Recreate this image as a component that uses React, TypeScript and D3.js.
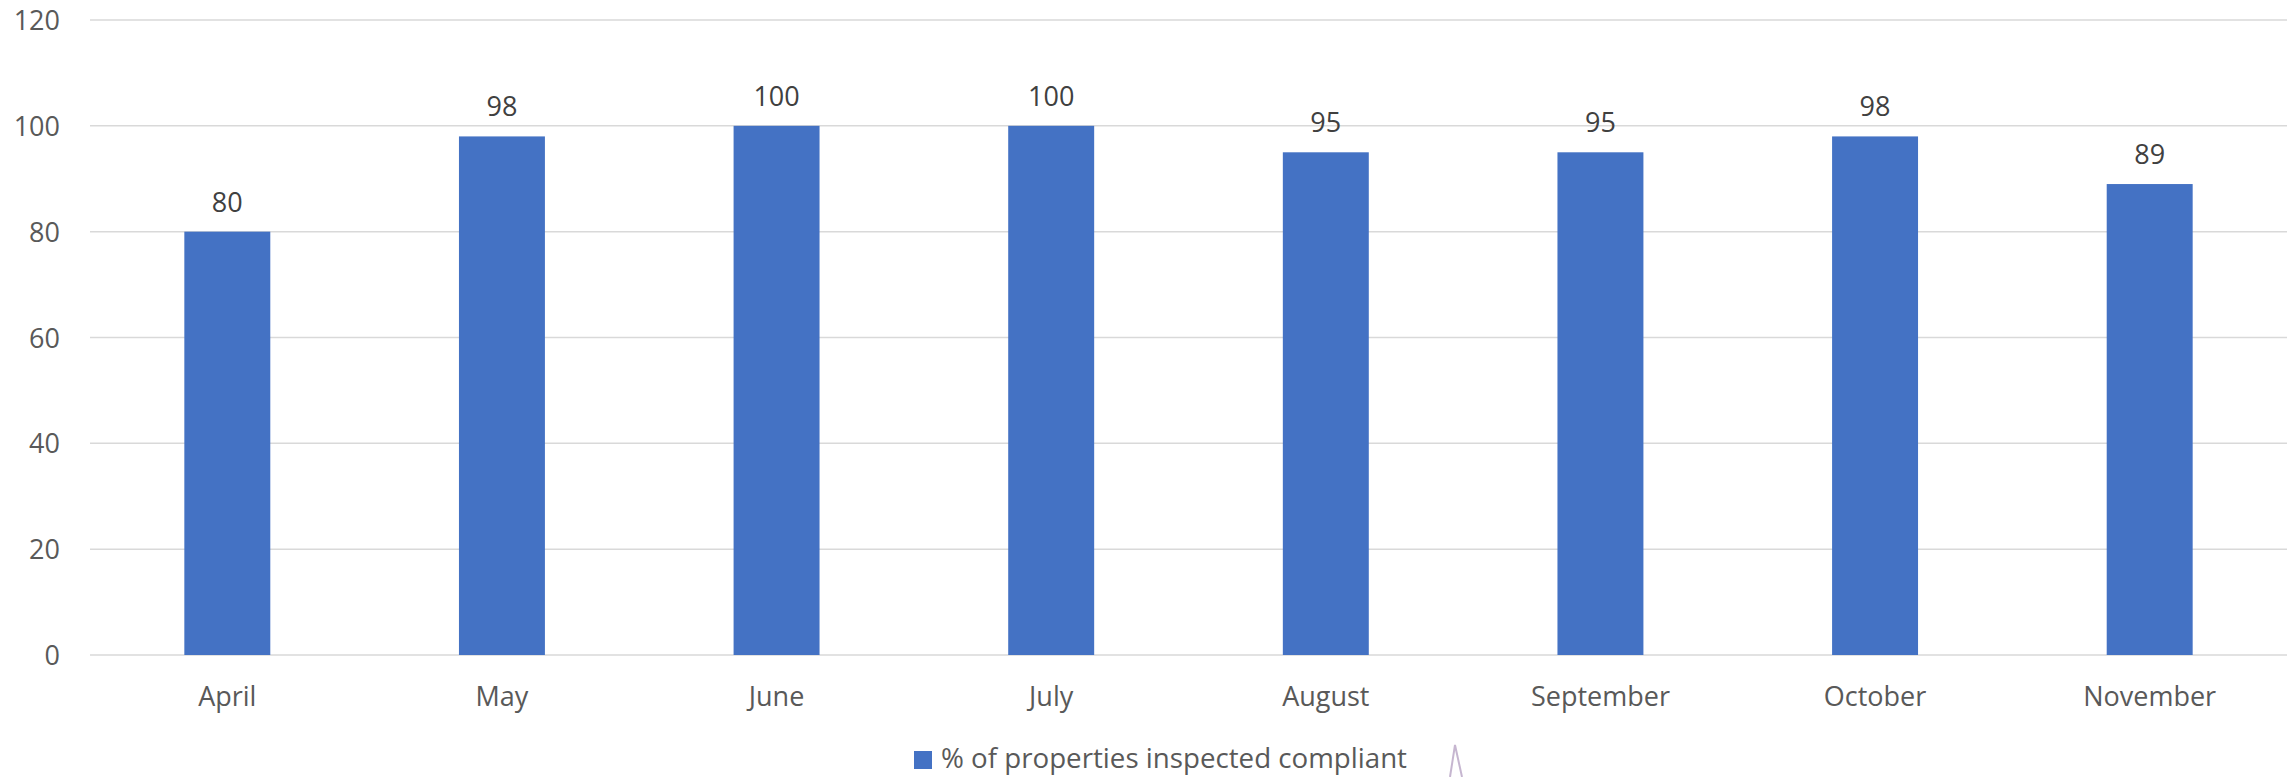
import { useEffect, useRef } from "react";
import * as d3 from "d3";

const months = ["April", "May", "June", "July", "August", "September", "October", "November"];
const compliant = [80, 98, 100, 100, 95, 95, 98, 89];
const yTicks = [0, 20, 40, 60, 80, 100, 120];
const seriesName = "% of properties inspected compliant";

const W = 2295;
const H = 777;
const FONT = "'Open Sans', 'Noto Sans', sans-serif";

export default function App(): JSX.Element {
  const ref = useRef<SVGSVGElement | null>(null);

  useEffect(() => {
    if (!ref.current) return;
    const svg = d3.select(ref.current);
    svg.selectAll("*").remove();

    const x0 = 90;
    const x1 = 2287;
    const y = d3.scaleLinear().domain([0, 120]).range([655, 20]);
    const inner = 0.687;
    const x = d3
      .scaleBand<string>()
      .domain(months)
      .range([x0, x1])
      .paddingInner(inner)
      .paddingOuter(inner / 2);

    // gridlines
    svg
      .append("g")
      .selectAll("line")
      .data(yTicks)
      .join("line")
      .attr("x1", x0)
      .attr("x2", x1)
      .attr("y1", (d) => y(d))
      .attr("y2", (d) => y(d))
      .attr("stroke", "#d9d9d9")
      .attr("stroke-width", 1.5);

    // y tick labels
    svg
      .append("g")
      .selectAll("text")
      .data(yTicks)
      .join("text")
      .attr("x", 60)
      .attr("y", (d) => y(d) + 10)
      .attr("text-anchor", "end")
      .attr("font-family", FONT)
      .attr("font-size", 27)
      .attr("fill", "#595959")
      .text((d) => d);

    // bars
    svg
      .append("g")
      .selectAll("rect")
      .data(compliant)
      .join("rect")
      .attr("x", (_, i) => x(months[i]) ?? 0)
      .attr("width", x.bandwidth())
      .attr("y", (d) => y(d))
      .attr("height", (d) => y(0) - y(d))
      .attr("fill", "#4472c4");

    // value labels
    svg
      .append("g")
      .selectAll("text")
      .data(compliant)
      .join("text")
      .attr("x", (_, i) => (x(months[i]) ?? 0) + x.bandwidth() / 2)
      .attr("y", (d) => y(d) - 20)
      .attr("text-anchor", "middle")
      .attr("font-family", FONT)
      .attr("font-size", 27)
      .attr("fill", "#404040")
      .text((d) => d);

    // x labels
    svg
      .append("g")
      .selectAll("text")
      .data(months)
      .join("text")
      .attr("x", (d) => (x(d) ?? 0) + x.bandwidth() / 2)
      .attr("y", 706)
      .attr("text-anchor", "middle")
      .attr("font-family", FONT)
      .attr("font-size", 27)
      .attr("fill", "#595959")
      .text((d) => d);

    // legend
    const lg = svg.append("g");
    lg.append("rect")
      .attr("x", 914)
      .attr("y", 751)
      .attr("width", 18)
      .attr("height", 18)
      .attr("fill", "#4472c4");
    lg.append("text")
      .attr("x", 941)
      .attr("y", 768)
      .attr("font-family", FONT)
      .attr("font-size", 27)
      .attr("fill", "#595959")
      .attr("textLength", 466)
      .attr("lengthAdjust", "spacingAndGlyphs")
      .text(seriesName);

    // stray pen mark in the source picture
    svg
      .append("path")
      .attr("d", "M1450,777 L1455,745 L1462,777")
      .attr("fill", "none")
      .attr("stroke", "#b8a4c4")
      .attr("stroke-width", 2)
      .attr("opacity", 0.8);
  }, []);

  return (
    <svg
      ref={ref}
      width={W}
      height={H}
      style={{ position: "absolute", left: 0, top: 0, background: "#fff" }}
    />
  );
}
